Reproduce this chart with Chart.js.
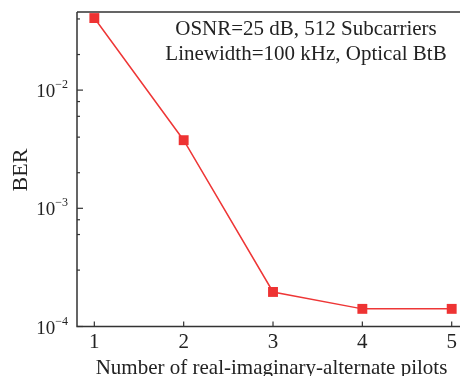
<!DOCTYPE html>
<html><head><meta charset="utf-8">
<script src="https://cdn.jsdelivr.net/npm/chart.js@4"></script>
<style>html,body{margin:0;padding:0;background:#fff;overflow:hidden;}#wrap{width:460px;height:376px;}</style>
</head><body><div id="wrap"><canvas id="c" width="460" height="376"></canvas></div>
<script>
const pilots = [1, 2, 3, 4, 5];
const ber = [0.0407, 0.00377, 0.000196, 0.000141, 0.000141];
const xTickLabels = ['1', '2', '3', '4', '5'];
const yTickExps = [-4, -3, -2];
const annotation = ['OSNR=25 dB, 512 Subcarriers', 'Linewidth=100 kHz, Optical BtB'];
const xTitle = 'Number of real-imaginary-alternate pilots';
const yTitle = 'BER';

const FONT = '"Liberation Serif", "Times New Roman", serif';
const AXIS = '#333333';

const customAxes = {
  id: 'customAxes',
  afterDatasetsDraw(chart) {
    const ctx = chart.ctx;
    const a = chart.chartArea;
    const xs = chart.scales.x, ys = chart.scales.y;
    ctx.save();
    ctx.strokeStyle = AXIS;
    ctx.lineWidth = 1.5;
    ctx.beginPath();
    ctx.moveTo(a.left, a.top); ctx.lineTo(460, a.top);
    ctx.moveTo(a.left, a.top); ctx.lineTo(a.left, a.bottom);
    ctx.moveTo(a.left - 0.75, a.bottom); ctx.lineTo(460, a.bottom);
    ctx.stroke();
    // y ticks
    ctx.lineWidth = 1.2;
    ys.ticks.forEach(t => {
      const v = t.value;
      if (v < ys.min * 0.999 || v > ys.max * 1.001) return;
      const lg = Math.log10(v);
      const major = Math.abs(lg - Math.round(lg)) < 1e-6;
      const py = ys.getPixelForValue(v);
      ctx.beginPath();
      ctx.moveTo(a.left, py); ctx.lineTo(a.left + (major ? 6 : 3), py);
      ctx.stroke();
    });
    // x ticks
    xs.ticks.forEach(t => {
      const px = xs.getPixelForValue(t.value);
      ctx.beginPath();
      ctx.moveTo(px, a.bottom); ctx.lineTo(px, a.bottom - 5);
      ctx.stroke();
    });
    // y labels
    ctx.fillStyle = '#222';
    yTickExps.forEach(e => {
      const py = ys.getPixelForValue(Math.pow(10, e));
      const exp = '\u2212' + Math.abs(e);
      ctx.font = '12px ' + FONT;
      const we = ctx.measureText(exp).width;
      ctx.font = '19px ' + FONT;
      const wb = ctx.measureText('10').width;
      const right = 68;
      ctx.textAlign = 'left'; ctx.textBaseline = 'alphabetic';
      ctx.fillText('10', right - we - wb, py + 7);
      ctx.font = '12px ' + FONT;
      ctx.fillText(exp, right - we, py - 2);
    });
    // x labels
    ctx.font = '21px ' + FONT;
    ctx.textAlign = 'center'; ctx.textBaseline = 'alphabetic';
    xs.ticks.forEach((t, i) => {
      const px = xs.getPixelForValue(t.value);
      ctx.fillText(xTickLabels[i], px, 348);
    });
    // x title
    ctx.font = '21px ' + FONT;
    ctx.fillText(xTitle, 271.5, 374);
    // y title
    ctx.save();
    ctx.translate(27, 170);
    ctx.rotate(-Math.PI / 2);
    ctx.font = '22px ' + FONT;
    ctx.textAlign = 'center';
    ctx.fillText(yTitle, 0, 0);
    ctx.restore();
    // annotation
    ctx.font = '21px ' + FONT;
    ctx.textAlign = 'center';
    ctx.fillText(annotation[0], 306, 35);
    ctx.fillText(annotation[1], 306, 60);
    ctx.restore();
  }
};

new Chart(document.getElementById('c'), {
  type: 'line',
  data: {
    datasets: [{
      data: pilots.map((p, i) => ({ x: p, y: ber[i] })),
      borderColor: '#ee3636',
      backgroundColor: '#ee3333',
      borderWidth: 1.5,
      pointStyle: 'rect',
      pointRadius: 7,
      pointHoverRadius: 7,
      pointBorderWidth: 0,
      pointBackgroundColor: '#ee3333',
      tension: 0,
      clip: false
    }]
  },
  options: {
    responsive: false,
    animation: false,
    devicePixelRatio: 1,
    layout: { autoPadding: false, padding: { left: 77, top: 12, right: 0, bottom: 49.5 } },
    plugins: { legend: { display: false }, tooltip: { enabled: false } },
    scales: {
      x: {
        type: 'linear', min: 0.806, max: 5.093, display: false,
        afterBuildTicks: s => { s.ticks = pilots.map(v => ({ value: v })); }
      },
      y: {
        type: 'logarithmic', min: 1e-4, max: 0.0458, display: false
      }
    }
  },
  plugins: [customAxes]
});
</script></body></html>
